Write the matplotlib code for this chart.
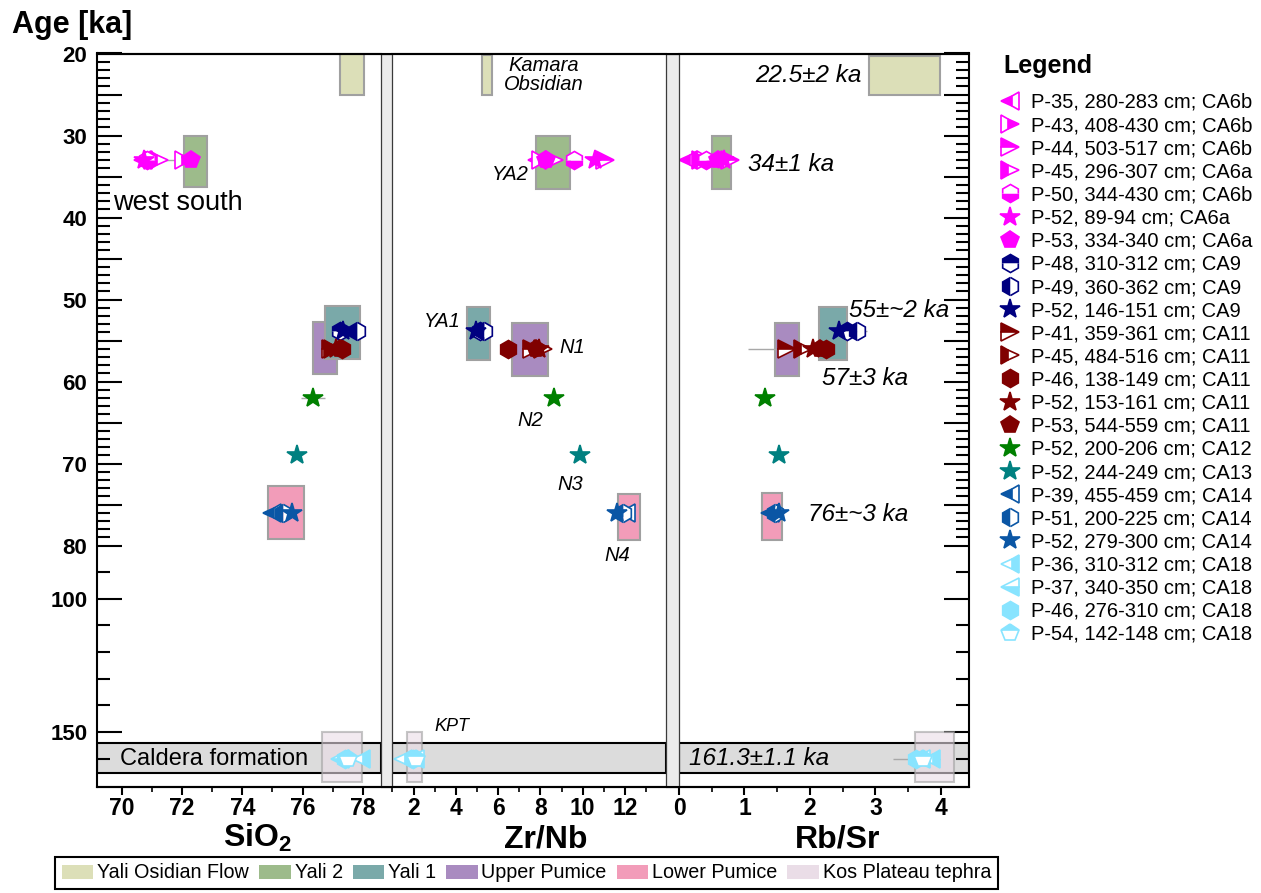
import numpy as np
import matplotlib
matplotlib.use("Agg")
import matplotlib.pyplot as plt
from matplotlib.patches import Rectangle, Patch
from matplotlib.lines import Line2D
from matplotlib.font_manager import FontProperties

plt.rcParams['font.family'] = ['Liberation Sans', 'DejaVu Sans']
NARROW = ['Liberation Sans Narrow', 'Liberation Sans', 'DejaVu Sans']

# ---------------- data ----------------
labels = ["P-35, 280-283 cm; CA6b", "P-43, 408-430 cm; CA6b", "P-44, 503-517 cm; CA6b",
          "P-45, 296-307 cm; CA6a", "P-50, 344-430 cm; CA6b", "P-52, 89-94 cm; CA6a",
          "P-53, 334-340 cm; CA6a", "P-48, 310-312 cm; CA9", "P-49, 360-362 cm; CA9",
          "P-52, 146-151 cm; CA9", "P-41, 359-361 cm; CA11", "P-45, 484-516 cm; CA11",
          "P-46, 138-149 cm; CA11", "P-52, 153-161 cm; CA11", "P-53, 544-559 cm; CA11",
          "P-52, 200-206 cm; CA12", "P-52, 244-249 cm; CA13", "P-39, 455-459 cm; CA14",
          "P-51, 200-225 cm; CA14", "P-52, 279-300 cm; CA14", "P-36, 310-312 cm; CA18",
          "P-37, 340-350 cm; CA18", "P-46, 276-310 cm; CA18", "P-54, 142-148 cm; CA18"]
colors = ["#ff00ff"] * 7 + ["#000080"] * 3 + ["#800000"] * 5 + ["#008000", "#008080"] + \
         ["#0a56a5"] * 3 + ["#88e4ff"] * 4
markers = ['<', '>', '>', '>', 'h', '*', 'p', 'h', 'h', '*', '>', '>', 'h', '*', 'p',
           '*', '*', '<', 'h', '*', '<', '<', 'h', 'p']
fills = ['left', 'right', 'top', 'left', 'bottom', 'full', 'full', 'top', 'left', 'full',
         'top', 'left', 'full', 'full', 'full', 'full', 'full', 'left', 'left', 'full',
         'right', 'bottom', 'full', 'top']
ages = [33, 33, 33, 33, 33, 33, 33, 53.9, 53.9, 53.9, 56, 56, 56, 56, 56,
        62, 69, 76, 76, 76, 160, 160, 160, 160]
sio2 = [70.7, 72.05, 71.05, 71.25, 70.85, 70.75, 72.3, 77.25, 77.8, 77.35,
        76.95, 77.0, 77.3, 77.1, 77.25, 76.35, 75.83, 75.0, 75.35, 75.65,
        77.95, 77.25, 77.4, 77.5]
zrnb = [7.85, 8.05, 11.05, 8.65, 9.6, 10.6, 8.25, 5.15, 5.35, 4.95,
        7.6, 8.1, 6.45, 7.95, 7.8, 8.65, 9.85, 12.05, 11.9, 11.6,
        1.5, 2.05, 1.95, 2.1]
rbsr = [0.13, 0.42, 0.78, 0.33, 0.42, 0.68, 0.6, 2.57, 2.72, 2.45,
        1.65, 1.9, 2.25, 2.05, 2.15, 1.32, 1.53, 1.39, 1.47, 1.53,
        3.85, 3.7, 3.62, 3.72]
# horizontal error (lower, upper), index -> value
sio2_err = {1: (0.85, 0.0), 10: (0.3, 0.0), 15: (0.4, 0.4)}
zrnb_err = {10: (0.45, 0.0), 17: (0.0, 0.35)}
rbsr_err = {8: (0.0, 0.15), 10: (0.6, 0.0), 22: (0.35, 0.36)}

field_names = ['Yali Osidian Flow', 'Yali 2', 'Yali 1', 'Upper Pumice', 'Lower Pumice',
               'Kos Plateau tephra']
field_colors = ['#dcdfb8', '#9dbb8b', '#7aa9a9', '#a98bc0', '#f29cb9', '#eadde7']
# (xmin, xmax, age_min, age_max), order: obsidian, yali2, yali1, upper, lower, kos
sio2_fields = [(77.25, 78.05, 20, 25), (72.06, 72.83, 30, 36.3), (76.73, 77.92, 50.8, 57.2),
               (76.34, 77.13, 52.7, 59.1), (74.85, 76.05, 72.8, 79.2), (76.64, 77.96, 150, 169)]
zrnb_fields = [(5.26, 5.73, 20.2, 25), (7.81, 9.41, 30, 36.5), (4.51, 5.62, 50.9, 57.4),
               (6.64, 8.36, 52.9, 59.3), (11.68, 12.70, 73.7, 79.3), (1.67, 2.41, 150, 169)]
rbsr_fields = [(2.91, 3.98, 20.3, 25), (0.50, 0.80, 30, 36.5), (2.14, 2.57, 50.9, 57.4),
               (1.47, 1.84, 52.9, 59.3), (1.27, 1.57, 73.6, 79.3), (3.6, 4.2, 150, 169)]
caldera_band = (154.1, 165.3)

y_major = [20, 25, 30, 35, 40, 45, 50, 55, 60, 65, 70, 75, 80, 100, 150]
y_major_labels = ['20', '', '30', '', '40', '', '50', '', '60', '', '70', '', '80', '100', '150']
y_minor = [a for a in range(21, 80) if a % 5] + [90, 110, 120, 130, 140, 160]

# ---------------- figure ----------------
W, H = 1261, 893
fig = plt.figure(figsize=(W / 100, H / 100), dpi=100)


def fx(px):
    return px / W


def fy(py):
    return 1 - py / H


TOP, BOT = 53.5, 787
BREAK, FAC = 80.0, 3.08


def fwd(y):
    y = np.asarray(y, dtype=float)
    return np.where(y <= BREAK, y, BREAK + (y - BREAK) / FAC)


def inv(z):
    z = np.asarray(z, dtype=float)
    return np.where(z <= BREAK, z, BREAK + (z - BREAK) * FAC)


def mk_ax(x0, x1, sharey=None):
    return fig.add_axes([fx(x0), fy(BOT), fx(x1) - fx(x0), fy(TOP) - fy(BOT)], sharey=sharey)


ax1 = mk_ax(97, 381)
ax1.set_yscale('function', functions=(fwd, inv))
ax1.set_ylim(170.7, 20)
ax2 = mk_ax(392, 666, sharey=ax1)
ax3 = mk_ax(679, 969, sharey=ax1)
axes = [ax1, ax2, ax3]

ax1.set_xlim(69.18, 78.6)
ax2.set_xlim(0.98, 13.94)
ax3.set_xlim(0.0, 4.43)

panel_x = [sio2, zrnb, rbsr]
panel_err = [sio2_err, zrnb_err, rbsr_err]
panel_fields = [sio2_fields, zrnb_fields, rbsr_fields]
draw_order = [0, 1, 3, 2, 4, 5]

handles = []
for k, ax in enumerate(axes):
    ax.axhspan(*caldera_band, facecolor='#dcdcdc', edgecolor='black', lw=1.5, zorder=1)
    for j in draw_order:
        x0, x1, a0, a1 = panel_fields[k][j]
        alpha = 0.6 if j == 5 else 1.0
        ax.add_patch(Rectangle((x0, a0), x1 - x0, a1 - a0, facecolor=field_colors[j],
                               edgecolor='#a0a0a0', lw=1.5, alpha=alpha, zorder=2))
    for i in range(len(labels)):
        if i in panel_err[k]:
            lo, hi = panel_err[k][i]
            ax.hlines(ages[i], panel_x[k][i] - lo, panel_x[k][i] + hi,
                      color='#a8a8a8', lw=1.0, zorder=4)
    for i in range(len(labels)):
        ms = 15 if markers[i] == '*' else 13
        ln, = ax.plot([panel_x[k][i]], [ages[i]], linestyle='none', marker=markers[i],
                      markersize=ms, color=colors[i], markerfacecolor=colors[i],
                      markerfacecoloralt='white', markeredgecolor=colors[i],
                      fillstyle=fills[i], markeredgewidth=1.2, zorder=5)
        if k == 0:
            handles.append(ln)

# ---------------- ticks ----------------
ax1.set_yticks(y_major)
ax1.set_yticklabels(y_major_labels)
ax1.set_yticks(y_minor, minor=True)
for ax in axes:
    ax.tick_params(axis='y', which='major', direction='in', length=18, width=1.5)
    ax.tick_params(axis='y', which='minor', direction='in', length=9.5, width=1.5)
    ax.tick_params(axis='x', which='major', direction='out', length=6, width=1.5, pad=1)
    ax.tick_params(axis='x', which='minor', direction='out', length=3.5, width=1.2)
    for s in ['top', 'bottom', 'left', 'right']:
        ax.spines[s].set_linewidth(1.5)
ax1.tick_params(axis='y', which='both', left=True, right=False, labelleft=True, pad=7)
ax2.tick_params(axis='y', which='both', left=False, right=False, labelleft=False)
ax3.tick_params(axis='y', which='both', left=False, right=True, labelleft=False, labelright=False)
ax1.spines['right'].set_visible(False)
ax2.spines['left'].set_visible(False)
ax2.spines['right'].set_visible(False)
ax3.spines['left'].set_visible(False)

ax1.set_xticks([70, 72, 74, 76, 78])
ax1.set_xticks([71, 73, 75, 77], minor=True)
ax2.set_xticks([2, 4, 6, 8, 10, 12])
ax2.set_xticks([1, 3, 5, 7, 9, 11, 13], minor=True)
ax3.set_xticks([0, 1, 2, 3, 4])
ax3.set_xticks([0.5, 1.5, 2.5, 3.5], minor=True)
ax3.set_xticklabels(['0', '1', '2', '3', '4'])

xtick_fp = FontProperties(family=NARROW, weight='bold', size=16.5)
for ax in axes:
    for lab in ax.get_xticklabels():
        lab.set_fontproperties(xtick_fp)
for lab in ax1.get_yticklabels():
    lab.set_fontweight('bold')
    lab.set_fontsize(16)

# separators
for x0, x1 in [(381, 392), (666, 679)]:
    fig.add_artist(Rectangle((fx(x0), fy(BOT)), fx(x1) - fx(x0), fy(TOP) - fy(BOT),
                             transform=fig.transFigure, facecolor='#ebebeb',
                             edgecolor='#3a3a3a', lw=0.9, zorder=10))
for yy in [TOP, BOT]:
    fig.add_artist(Line2D([fx(97), fx(969)], [fy(yy), fy(yy)], transform=fig.transFigure,
                          color='black', lw=1.5, zorder=11, solid_capstyle='butt'))

# ---------------- texts ----------------
fig.text(fx(12), fy(33), 'Age [ka]', fontsize=22, fontweight='bold', ha='left', va='baseline')
lab_fp = FontProperties(family=NARROW, weight='bold', size=23)
fig.text(fx(257), fy(847), r'SiO$_\mathregular{2}$', fontproperties=lab_fp, ha='center', va='baseline')
fig.text(fx(546), fy(847), 'Zr/Nb', fontproperties=lab_fp, ha='center', va='baseline')
fig.text(fx(838), fy(847), 'Rb/Sr', fontproperties=lab_fp, ha='center', va='baseline')

ax1.text(71.87, 38.2, 'west south', fontsize=19.5, ha='center', va='center', zorder=6)
ax1.text(69.94, 160, 'Caldera formation', fontsize=17, ha='left', va='center', zorder=6)

it = dict(style='italic', zorder=6)
ax2.text(8.16, 21.5, 'Kamara', fontsize=14.5, ha='center', va='center', **it)
ax2.text(8.16, 23.8, 'Obsidian', fontsize=14.5, ha='center', va='center', **it)
ax2.text(7.45, 34.7, 'YA2', fontsize=14.5, ha='right', va='center', **it)
ax2.text(4.23, 52.7, 'YA1', fontsize=14.5, ha='right', va='center', **it)
ax2.text(8.92, 55.9, 'N1', fontsize=14.5, ha='left', va='center', **it)
ax2.text(7.53, 64.7, 'N2', fontsize=14.5, ha='center', va='center', **it)
ax2.text(9.39, 72.6, 'N3', fontsize=14.5, ha='center', va='center', **it)
ax2.text(11.65, 83.8, 'N4', fontsize=14.5, ha='center', va='center', **it)
ax2.text(3.0, 147.9, 'KPT', fontsize=13, ha='left', va='center', **it)

ax3.text(2.79, 22.7, '22.5±2 ka', fontsize=17.5, ha='right', va='center', **it)
ax3.text(1.06, 33.5, '34±1 ka', fontsize=17.5, ha='left', va='center', **it)
ax3.text(2.6, 51.4, '55±~2 ka', fontsize=17.5, ha='left', va='center', **it)
ax3.text(2.18, 59.6, '57±3 ka', fontsize=17.5, ha='left', va='center', **it)
ax3.text(1.97, 76.2, '76±~3 ka', fontsize=17.5, ha='left', va='center', **it)
ax3.text(0.16, 160, '161.3±1.1 ka', fontsize=17.5, ha='left', va='center', **it)

# ---------------- legends ----------------
fig.text(fx(1003), fy(73), 'Legend', fontsize=18, fontweight='bold', ha='left', va='baseline')
leg = fig.legend(handles, labels, loc='upper left', bbox_to_anchor=(fx(1000), fy(93)),
                 frameon=False, fontsize=14.5,
                 handlelength=1.0, handletextpad=0.55, labelspacing=0.205, borderpad=0,
                 borderaxespad=0, numpoints=1)

patches = [Patch(facecolor=c, edgecolor='none') for c in field_colors]
leg2 = fig.legend(patches, field_names, loc='center', bbox_to_anchor=(fx(526.5), fy(873)),
                  ncol=6, frameon=True, fancybox=False, edgecolor='black', framealpha=1,
                  prop=FontProperties(family=NARROW, size=14.2), handlelength=1.6,
                  handletextpad=0.2, columnspacing=0.5, borderpad=0.35, borderaxespad=0)
leg2.get_frame().set_linewidth(1.5)

fig.savefig('out.png', dpi=100)
